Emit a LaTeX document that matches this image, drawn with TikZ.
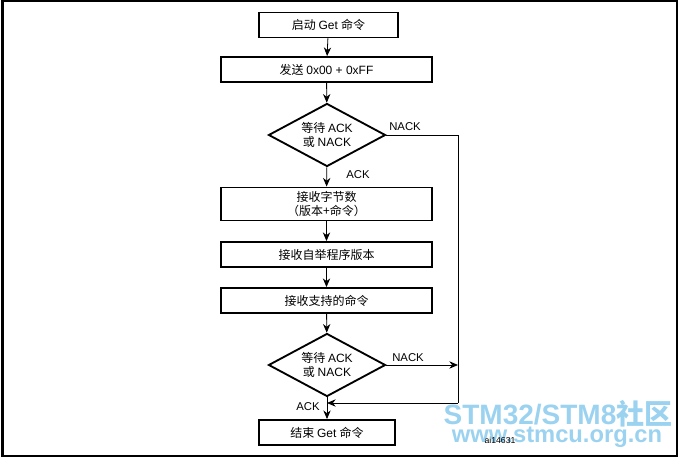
\documentclass[tikz,border=0pt]{standalone}
\usepackage{fontspec}
\setmainfont{Liberation Sans}
\newfontfamily\cjk{Noto Sans CJK SC}
\usetikzlibrary{shapes.geometric,arrows.meta}
\definecolor{wm}{RGB}{120,195,235}
\begin{document}
\begin{tikzpicture}[x=0.75pt,y=-0.75pt,
  box/.style={draw,line width=1.4pt,minimum height=18.75pt,inner sep=0pt,font=\fontsize{9}{11}\selectfont,align=center},
  dia/.style={draw,diamond,aspect=1.86,line width=1.4pt,minimum width=87.75pt,minimum height=47.25pt,inner sep=0pt,font=\fontsize{9}{11}\selectfont,align=center},
  conn/.style={line width=0.6pt,-{Stealth[length=6.5pt,width=5.5pt]}},
  plain/.style={line width=0.6pt},
  lbl/.style={font=\fontsize{8.5}{10}\selectfont,inner sep=0pt}]
\useasboundingbox (0,0) rectangle (679,459);
\draw[line width=1.5pt] (2.5,1.5) rectangle (676.5,456.5);

\node[box,minimum width=104.25pt] (b1) at (328.5,25) {\cjk 启动 \rmfamily Get \cjk 命令};
\node[box,minimum width=158.25pt] (b2) at (326.5,69.5) {\cjk 发送 \rmfamily 0x00 + 0xFF};
\node[dia] (d1) at (327,135) {\cjk 等待 \rmfamily ACK\\\cjk 或 \rmfamily NACK};
\node[box,minimum width=158.25pt,minimum height=24.75pt] (b3) at (326.5,204) {\cjk 接收字节数\\\cjk （版本+命令）};
\node[box,minimum width=158.25pt] (b4) at (326.5,254.5) {\cjk 接收自举程序版本};
\node[box,minimum width=158.25pt] (b5) at (326.5,300.5) {\cjk 接收支持的命令};
\node[dia] (d2) at (327,365) {\cjk 等待 \rmfamily ACK\\\cjk 或 \rmfamily NACK};
\node[box,minimum width=102pt] (b6) at (327,432.5) {\cjk 结束 \rmfamily Get \cjk 命令};

\coordinate (r1) at (458,135);
\coordinate (r2) at (458,365);
\coordinate (r3) at (458,403);
\coordinate (j) at (327,403);

\draw[conn] (b1) -- (b2);
\draw[conn] (b2) -- (d1);
\draw[conn] (d1) -- (b3);
\draw[conn] (b3) -- (b4);
\draw[conn] (b4) -- (b5);
\draw[conn] (b5) -- (d2);
\draw[conn] (d2) -- (b6);
\draw[plain] (d1.east) -- (r1) -- (r3);
\draw[conn] (r3) -- (j);
\draw[conn] (d2.east) -- (r2);

\node[lbl] (n1) at (405,127) {NACK};
\node[lbl] (a1) at (358,175) {ACK};
\node[lbl] (n2) at (408,358) {NACK};
\node[lbl] (a2) at (308,407) {ACK};

\node[font=\fontsize{21}{24}\selectfont\bfseries\sffamily,text=wm,opacity=0.75,inner sep=0pt] (w1) at (558,414) {\fontspec{Liberation Sans}STM32/STM8\cjk 社区};
\node[font=\fontsize{17.8}{20}\selectfont\bfseries,text=wm,opacity=0.75,inner sep=0pt] (w2) at (557,437) {www.stmcu.org.cn};
\node[font=\fontsize{6.5}{8}\selectfont,inner sep=0pt] (ai) at (500,440) {ai14631};
\end{tikzpicture}
\end{document}
